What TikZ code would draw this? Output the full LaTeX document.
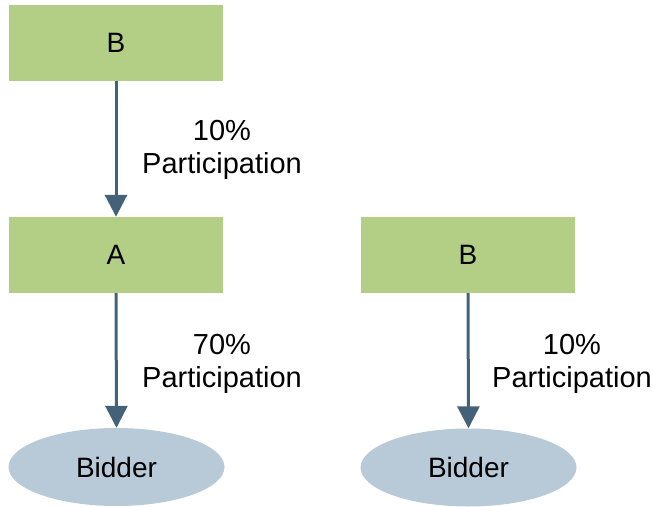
\documentclass[tikz,border=0pt]{standalone}
\usepackage{fontspec}
\setmainfont{Liberation Sans}
\usetikzlibrary{arrows.meta,shapes.geometric}
\definecolor{boxgreen}{RGB}{179,207,133}
\definecolor{ellblue}{RGB}{184,202,216}
\definecolor{arrowc}{RGB}{67,97,120}
\tikzset{
  x=1pt, y=-1pt,
  greenbox/.style={fill=boxgreen, draw=none, minimum width=214pt, minimum height=76pt, inner sep=0pt, font=\fontsize{28}{32}\selectfont},
  bidder/.style={ellipse, fill=ellblue, draw=none, minimum width=216pt, minimum height=78pt, inner sep=0pt, font=\fontsize{28}{32}\selectfont},
  conn/.style={draw=arrowc, line width=3pt, -{Triangle[width=22pt,length=22pt]}, shorten >=0pt},
  lbl/.style={align=center, font=\fontsize{29}{33}\selectfont, inner sep=0pt}
}
\begin{document}
\begin{tikzpicture}
\useasboundingbox (0,0) rectangle (653,506);
\node[greenbox] (b1) at (116,42.5) {B};
\node[greenbox] (a) at (116,255) {A};
\node[greenbox] (b2) at (468,255) {B};
\node[bidder] (d1) at (116.5,467) {Bidder};
\node[bidder] (d2) at (468.5,467.5) {Bidder};
\draw[conn] (b1.south) -- (a.north);
\draw[conn] (a.south) -- (d1.north);
\draw[conn] (b2.south) -- (d2.north);
\node[lbl] (l1) at (222,150) {10\%\\Participation};
\node[lbl] (l2) at (222,364) {70\%\\Participation};
\node[lbl] (l3) at (572,364) {10\%\\Participation};
\end{tikzpicture}
\end{document}
